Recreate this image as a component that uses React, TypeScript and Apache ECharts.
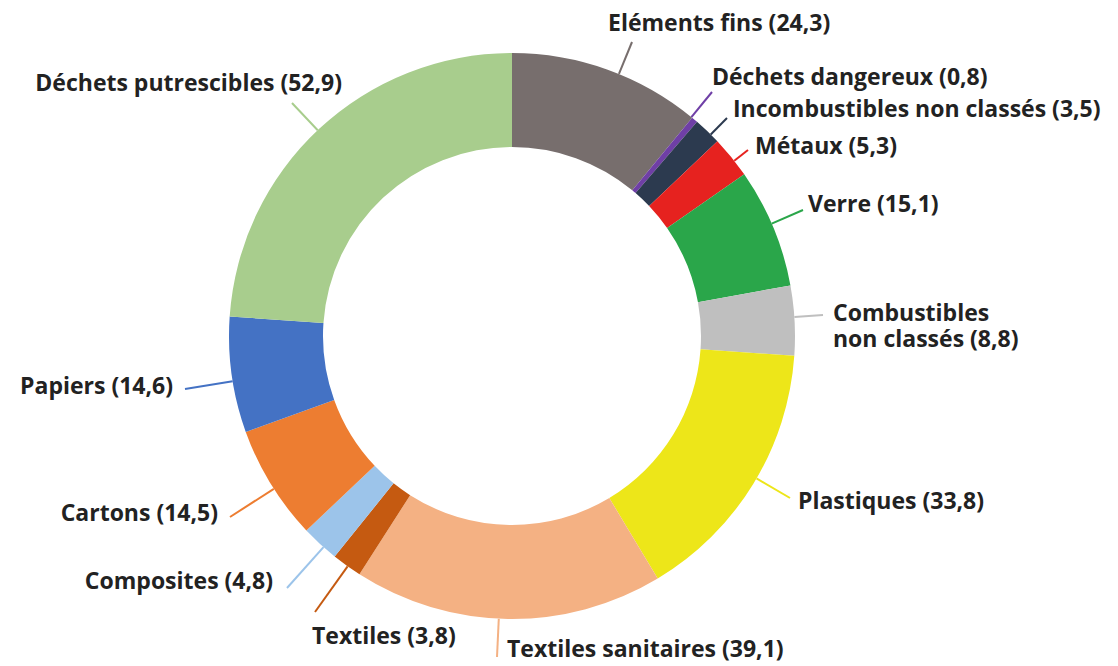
import React, { useEffect, useRef } from "react";
import * as echarts from "echarts";

const CATEGORIES = [
  "Eléments fins",
  "Déchets dangereux",
  "Incombustibles non classés",
  "Métaux",
  "Verre",
  "Combustibles\nnon classés",
  "Plastiques",
  "Textiles sanitaires",
  "Textiles",
  "Composites",
  "Cartons",
  "Papiers",
  "Déchets putrescibles",
];

const VALUES = [24.3, 0.8, 3.5, 5.3, 15.1, 8.8, 33.8, 39.1, 3.8, 4.8, 14.5, 14.6, 52.9];

const COLORS = [
  "#776e6d",
  "#6f3fa6",
  "#2c3a4f",
  "#e6221f",
  "#2aa64a",
  "#bfbfbf",
  "#ede619",
  "#f4b183",
  "#c55a11",
  "#9cc4ea",
  "#ed7d31",
  "#4472c4",
  "#a8cd8d",
];

// label anchors (text position) and leader line end points — styling only
const LABEL_PLACE = [
  { x: 608, y: 22, align: "left", lx: 632, ly: 42 },
  { x: 712, y: 76, align: "left", lx: 712, ly: 92 },
  { x: 733, y: 108, align: "left", lx: 727, ly: 118 },
  { x: 755, y: 145, align: "left", lx: 748, ly: 150 },
  { x: 808, y: 203, align: "left", lx: 803, ly: 210 },
  { x: 833, y: 325, align: "left", lx: 823, ly: 315 },
  { x: 798, y: 500, align: "left", lx: 790, ly: 498 },
  { x: 507, y: 648, align: "left", lx: 497, ly: 657 },
  { x: 312, y: 635, align: "left", lx: 315, ly: 612 },
  { x: 273, y: 580, align: "right", lx: 287, ly: 588 },
  { x: 218, y: 512, align: "right", lx: 230, ly: 517 },
  { x: 173, y: 385, align: "right", lx: 185, ly: 389 },
  { x: 342, y: 82, align: "right", lx: 292, ly: 103 },
];

const CX = 512;
const CY = 336;
const R_OUT = 283;
const R_IN = 189;

export default function App() {
  const ref = useRef<HTMLDivElement>(null);

  useEffect(() => {
    if (!ref.current) return;
    const chart = echarts.init(ref.current, undefined, { renderer: "svg" });
    const data = CATEGORIES.map((name, i) => ({
      name,
      value: VALUES[i],
      itemStyle: { color: COLORS[i] },
    }));
    chart.setOption({
      animation: false,
      backgroundColor: "#ffffff",
      series: [
        {
          type: "pie",
          center: [CX, CY],
          radius: [R_IN, R_OUT],
          startAngle: 90,
          clockwise: true,
          avoidLabelOverlap: false,
          itemStyle: { borderWidth: 0 },
          data,
          label: {
            show: true,
            position: "outside",
            fontFamily: "'Open Sans', sans-serif",
            fontWeight: "bold",
            fontSize: 23,
            lineHeight: 26,
            color: "#222222",
            formatter: (p: any) =>
              `${p.name} (${Number(p.value).toFixed(1).replace(".", ",")})`,
          },
          labelLine: {
            show: true,
            length: 20,
            length2: 0,
            lineStyle: { width: 2 },
          },
          labelLayout: (params: any) => {
            const pl = LABEL_PLACE[params.dataIndex];
            const dx = pl.lx - CX;
            const dy = pl.ly - CY;
            const d = Math.sqrt(dx * dx + dy * dy);
            const sx = CX + (dx * R_OUT) / d;
            const sy = CY + (dy * R_OUT) / d;
            return {
              x: pl.x,
              y: pl.y,
              align: pl.align,
              verticalAlign: "middle",
              labelLinePoints: [
                [sx, sy],
                [pl.lx, pl.ly],
                [pl.lx, pl.ly],
              ],
            };
          },
        },
      ],
    });
    return () => chart.dispose();
  }, []);

  return (
    <div
      ref={ref}
      style={{ position: "fixed", left: 0, top: 0, width: 1118, height: 666 }}
    />
  );
}
